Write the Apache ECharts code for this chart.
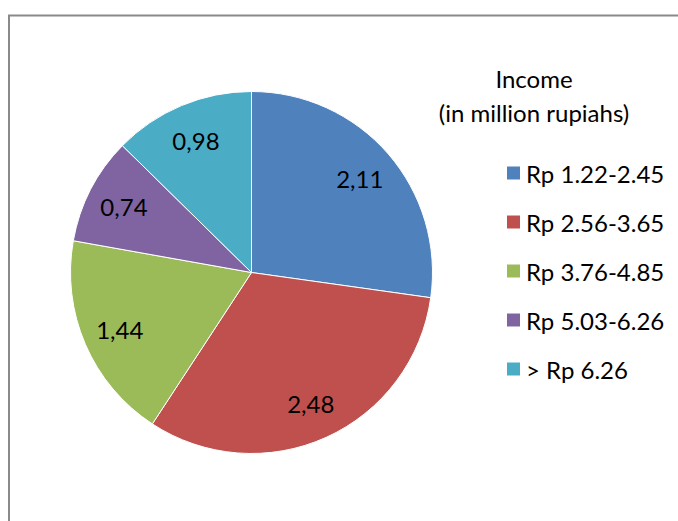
<!DOCTYPE html>
<html>
<head>
<meta charset="utf-8">
<script src="https://cdn.jsdelivr.net/npm/echarts@6/dist/echarts.min.js"></script>
<style>
html,body{margin:0;padding:0;background:#fff;}
#main{width:678px;height:521px;}
</style>
</head>
<body>
<div id="main"></div>
<script>
const categories = ['Rp 1.22-2.45', 'Rp 2.56-3.65', 'Rp 3.76-4.85', 'Rp 5.03-6.26', '> Rp 6.26'];
const values = [2.11, 2.48, 1.44, 0.74, 0.98];
const colors = ['#4F81BD', '#C0504D', '#9BBB59', '#8064A2', '#4BACC6'];
const legendTitle = 'Income\n(in million rupiahs)';

const FONT = 'Lato';
const chart = echarts.init(document.getElementById('main'), null, {renderer: 'svg'});
const data = categories.map((c, i) => ({name: c, value: values[i]}));

chart.setOption({
  animation: false,
  color: colors,
  graphic: [{
    type: 'rect',
    shape: {x: 9, y: 15.5, width: 800, height: 700},
    style: {fill: 'none', stroke: '#8a8a8a', lineWidth: 2},
    silent: true
  }],
  title: {
    text: legendTitle,
    left: 534,
    top: 61,
    padding: 0,
    textAlign: 'center',
    textStyle: {fontFamily: FONT, fontSize: 24, fontWeight: 'normal', color: '#000', lineHeight: 34}
  },
  legend: {
    orient: 'vertical',
    left: 505,
    top: 161,
    padding: 0,
    itemWidth: 15,
    itemHeight: 15,
    itemGap: 25,
    icon: 'rect',
    textStyle: {fontFamily: FONT, fontSize: 24, color: '#000'},
    data: categories
  },
  series: [{
    type: 'pie',
    center: [251.5, 272.5],
    radius: [0, 181],
    startAngle: 90,
    clockwise: true,
    label: {show: false},
    labelLine: {show: false},
    itemStyle: {borderColor: '#fff', borderWidth: 1},
    data: data
  }, {
    type: 'pie',
    center: [251.5, 272.5],
    radius: [100, 181],
    startAngle: 90,
    clockwise: true,
    silent: true,
    legendHoverLink: false,
    itemStyle: {color: 'rgba(0,0,0,0)', borderWidth: 0},
    label: {
      show: true,
      position: 'inside',
      fontFamily: FONT,
      fontSize: 24,
      color: '#000',
      formatter: p => String(p.value).replace('.', ',')
    },
    labelLine: {show: false},
    data: data
  }]
});
</script>
</body>
</html>
